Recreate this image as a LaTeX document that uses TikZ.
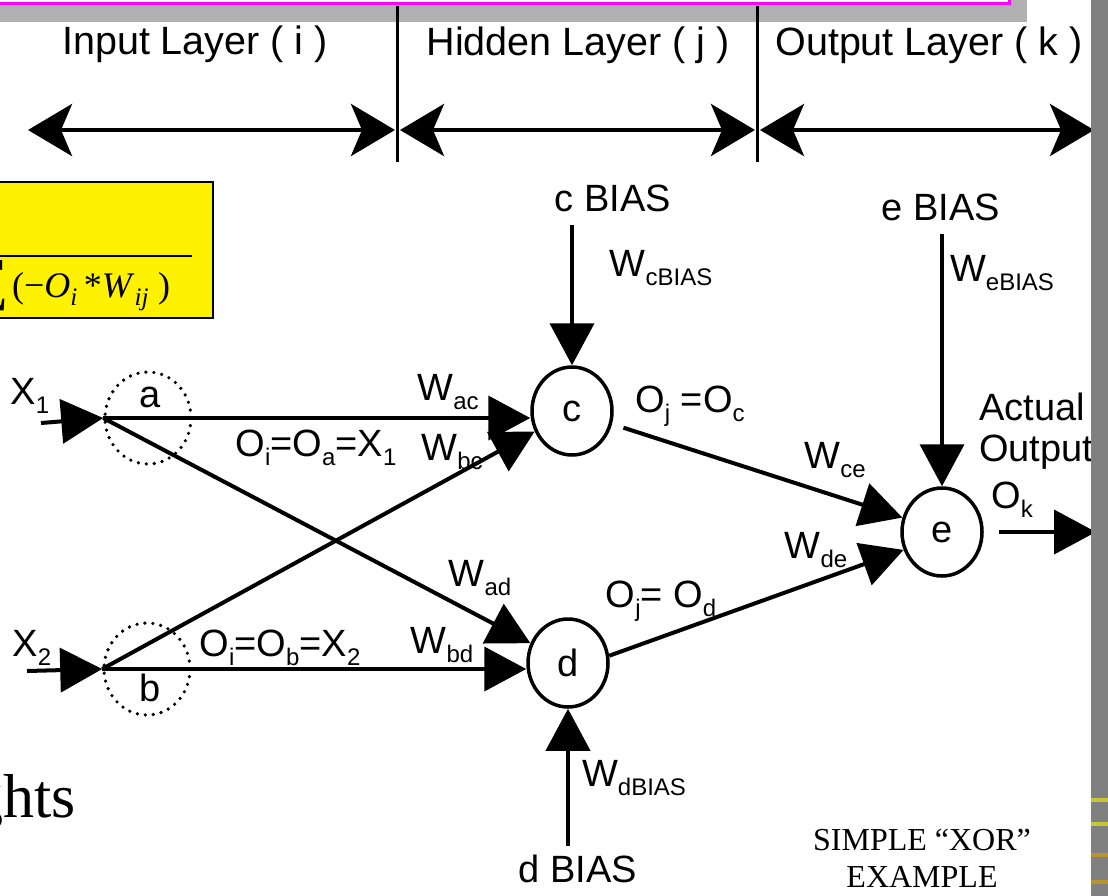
\documentclass[tikz,border=0pt]{standalone}
\usepackage{fontspec}
\setmainfont{Liberation Sans}
\newfontfamily\timesfont{Liberation Serif}
\usetikzlibrary{arrows.meta,shapes.geometric}
\definecolor{boxmagenta}{RGB}{255,0,255}
\definecolor{shadowgray}{RGB}{176,176,176}
\definecolor{bargray}{RGB}{128,128,128}
\definecolor{stripeyellow}{RGB}{200,200,50}
\definecolor{stripegold}{RGB}{185,150,45}
\newcommand{\lowsub}[1]{\raisebox{-0.24em}{\fontsize{24}{24}\selectfont #1}}

\tikzset{
	lbl/.style={font=\fontsize{38}{41}\selectfont, inner sep=0pt},
	layerlbl/.style={font=\fontsize{39.5}{41}\selectfont, inner sep=0pt},
	neuron/.style={draw, ellipse, line width=3.5pt, minimum width=80pt, minimum height=88pt, inner sep=0pt, font=\fontsize{38}{41}\selectfont},
	dotring/.style={draw, ellipse, minimum width=86pt, minimum height=92pt, inner sep=0pt, line width=3.6pt, line cap=round, dash pattern=on 0pt off 8pt},
	conn/.style={line width=4pt, -{Triangle[length=42pt,width=44pt]}},
	span/.style={line width=4.5pt, {Stealth[length=44pt,width=52pt,inset=11pt]}-{Stealth[length=44pt,width=52pt,inset=11pt]}},
}

\begin{document}
\begin{tikzpicture}[x=1pt,y=-1pt]
			%%%%% START %%%%%
			\useasboundingbox (0,0) rectangle (1108,895);
			\clip (0,0) rectangle (1108,895);
			
			% title box, cut off at the top
			\fill[shadowgray] (-10,-40) rectangle (1027,22);
			\draw[line width=3pt, draw=boxmagenta, fill=white] (-10,-50) rectangle (1009,3.5);
			
			% layers
			\draw[line width=3pt] (397,6) -- (397,162);
			\draw[line width=3pt] (757,6) -- (757,162);
			\node[layerlbl] (inlayer) at (195,44) {Input Layer ( i )};
			\node[layerlbl] (hidlayer) at (578,45) {Hidden Layer ( j )};
			\node[layerlbl] (outlayer) at (929,45) {Output Layer ( k )};
			
			\coordinate (s0) at (28,130);
			\coordinate (s1) at (395,130);
			\coordinate (s2) at (400,130);
			\coordinate (s3) at (755,130);
			\coordinate (s4) at (760,130);
			\coordinate (s5) at (1094,130);
			\draw[span] (s0) -- (s1);
			\draw[span] (s2) -- (s3);
			\draw[span] (s4) -- (s5);
			
			% sigmoid box
			\draw[line width=2.5pt, fill=yellow] (-10,182) rectangle (213,318);
			\draw[line width=2.5pt] (-10,256) -- (192,256);
			\node[anchor=east, inner sep=0pt, font=\timesfont\fontsize{58}{58}\selectfont] (sumsym) at (9,286) {∑};
			\node[anchor=base west, inner sep=0pt, font=\timesfont\fontsize{36}{36}\selectfont] (sigm) at (12,297) {(−\textit{O}\textsubscript{\textit{i}}\,*\textit{W}\textsubscript{\textit{ij}}\ )};
			
			% input layer
			\node[dotring] (a) at (148,418) {};
			\node[lbl] (alab) at (150,397) {a};
			\node[dotring] (b) at (147,669) {};
			\node[lbl] (blab) at (150,688) {b};
			
			\node[lbl] (x1) at (30,396) {X\lowsub{1}};
			\coordinate (x1in) at (41,423);
			\draw[conn] (x1in) -- (a.west);
			\node[lbl] (x2) at (32,648) {X\lowsub{2}};
			\coordinate (x2in) at (27,671);
			\draw[conn] (x2in) -- (b.west);
			
			% hidden and output layer
			\node[neuron] (c) at (572,411) {c};
			\node[neuron] (d) at (568,663) {d};
			\node[neuron] (e) at (942,532) {e};
			
			\draw[conn] (a.west) -- (c.west |- a.west);
			\draw[conn] (a.west) -- (d);
			\draw[conn] (b.west) -- (c);
			\draw[conn] (b.west) -- (d.west |- b.west);
			\draw[conn, shorten <=12pt] (c.-18) -- (e.160);
			\draw[conn] (d.10) -- (e.205);
			
			\node[lbl] (wac) at (448,392) {W\lowsub{ac}};
			\node[lbl] (oa) at (316,448) {O\lowsub{i}=O\lowsub{a}=X\lowsub{1}};
			\node[lbl] (wbc) at (452,452) {W\lowsub{bc}};
			\node[lbl] (wad) at (480,578) {W\lowsub{ad}};
			\node[lbl] (wbd) at (442,645) {W\lowsub{bd}};
			\node[lbl] (ob) at (280,648) {O\lowsub{i}=O\lowsub{b}=X\lowsub{2}};
			\node[lbl] (oc) at (690,406) {O\lowsub{j} =O\lowsub{c}};
			\node[lbl] (wce) at (835,460) {W\lowsub{ce}};
			\node[lbl] (wde) at (816,550) {W\lowsub{de}};
			\node[lbl] (od) at (661,601) {O\lowsub{j}= O\lowsub{d}};
			
			% bias inputs
			\node[lbl] (cbias) at (613,198) {c BIAS};
			\draw[conn] ([yshift=-13pt]cbias.south -| c.north) -- (c.north);
			\node[lbl] (cw) at (661,268) {W\lowsub{cBIAS}};
			\node[lbl] (ebias) at (941,207) {e BIAS};
			\draw[conn] ([yshift=-13pt]ebias.south -| e.north) -- (e.north);
			\node[lbl] (ew) at (1002,273) {W\lowsub{eBIAS}};
			\node[lbl] (dbias) at (578,869) {d BIAS};
			\draw[conn] ([yshift=9pt]dbias.north -| d.south) -- (d.south);
			\node[lbl] (dw) at (634,778) {W\lowsub{dBIAS}};
			
			% actual output
			\coordinate (yout) at (1096,533);
			\draw[conn, shorten <=15pt] (e.east) -- (e.east -| yout);
			\node[lbl] (ok) at (1012,500) {O\lowsub{k}};
			\node[lbl, align=left, anchor=north west] (actual) at (979,393) {Actual\\Output};
			
			\node[anchor=base east, inner sep=0pt, font=\timesfont\fontsize{62}{62}\selectfont] (wts) at (76,817) {ghts};
			\node[align=center, inner sep=0pt, font=\timesfont\fontsize{32}{37}\selectfont] (xor) at (922,858) {SIMPLE “XOR”\\EXAMPLE};
			
			% side bar
			\fill[bargray] (1091,-1) rectangle (1109,896);
			\fill[stripeyellow] (1091,798) rectangle (1109,802);
			\fill[stripeyellow] (1091,822) rectangle (1109,826);
			\fill[stripegold] (1091,853) rectangle (1109,857);
			\fill[stripegold] (1091,880) rectangle (1109,884);
			
			%%%%% END %%%%%
\end{tikzpicture}
\end{document}
